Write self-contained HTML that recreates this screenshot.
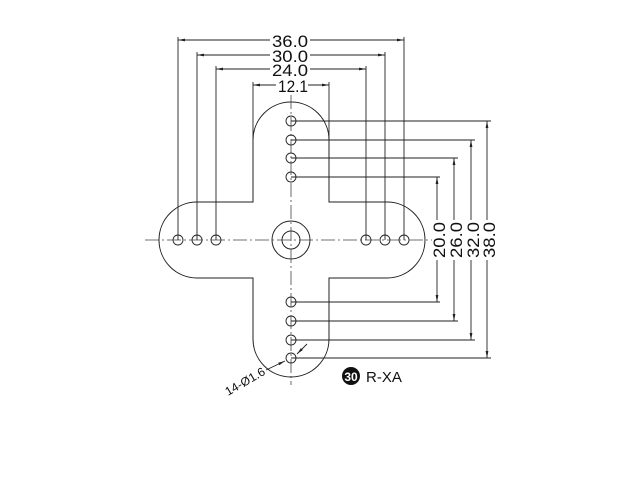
<!DOCTYPE html>
<html><head><meta charset="utf-8"><style>body{margin:0;background:#fff}svg{display:block}</style></head>
<body>
<svg width="640" height="480" viewBox="0 0 640 480" xmlns="http://www.w3.org/2000/svg" font-family="Liberation Sans, sans-serif">
<defs>
<marker id="a" viewBox="0 0 10 4" refX="10" refY="2" markerWidth="7" markerHeight="3" orient="auto-start-reverse" markerUnits="userSpaceOnUse"><path d="M0,0L10,2L0,4z" fill="#222"/></marker>
</defs>
<g fill="none" stroke="#222" stroke-width="1">
<path d="M253,140 A38,38 0 0 1 329,140 L329,202 L387,202 A38,38 0 0 1 387,278 L329,278 L329,339 A38,38 0 0 1 253,339 L253,278 L197,278 A38,38 0 0 1 197,202 L253,202 Z"/>
<circle cx="291" cy="240" r="19"/>
<circle cx="291" cy="240" r="9"/>
<g stroke-width="0.9">
<circle cx="291" cy="121" r="5"/><circle cx="291" cy="140" r="5"/><circle cx="291" cy="158" r="5"/><circle cx="291" cy="177" r="5"/>
<circle cx="291" cy="302" r="5"/><circle cx="291" cy="321" r="5"/><circle cx="291" cy="340" r="5"/><circle cx="291" cy="358" r="5"/>
<circle cx="178" cy="240" r="5"/><circle cx="197" cy="240" r="5"/><circle cx="216" cy="240" r="5"/>
<circle cx="366" cy="240" r="5"/><circle cx="385" cy="240" r="5"/><circle cx="404" cy="240" r="5"/>
</g>
</g>
<g stroke="#444" stroke-width="0.8" fill="none">
<line x1="145" y1="240" x2="432" y2="240" stroke-dasharray="14,3,2,3"/>
<line x1="291" y1="95" x2="291" y2="385" stroke-dasharray="14,3,2,3"/>
</g>
<g stroke="#222" stroke-width="0.9" fill="none">
<line x1="178" y1="37" x2="178" y2="240"/><line x1="404" y1="37" x2="404" y2="240"/>
<line x1="197" y1="52" x2="197" y2="240"/><line x1="385" y1="52" x2="385" y2="240"/>
<line x1="216" y1="66" x2="216" y2="240"/><line x1="366" y1="66" x2="366" y2="240"/>
<line x1="253" y1="82" x2="253" y2="140"/><line x1="329" y1="82" x2="329" y2="140"/>
<line x1="178" y1="40" x2="270" y2="40" marker-start="url(#a)"/><line x1="310" y1="40" x2="404" y2="40" marker-end="url(#a)"/>
<line x1="197" y1="55" x2="270" y2="55" marker-start="url(#a)"/><line x1="310" y1="55" x2="385" y2="55" marker-end="url(#a)"/>
<line x1="216" y1="69" x2="270" y2="69" marker-start="url(#a)"/><line x1="310" y1="69" x2="366" y2="69" marker-end="url(#a)"/>
<line x1="253" y1="85" x2="276" y2="85" marker-start="url(#a)"/><line x1="308" y1="85" x2="329" y2="85" marker-end="url(#a)"/>
<line x1="291" y1="121" x2="491" y2="121"/><line x1="291" y1="358" x2="491" y2="358"/>
<line x1="291" y1="140" x2="475" y2="140"/><line x1="291" y1="340" x2="475" y2="340"/>
<line x1="291" y1="158" x2="458" y2="158"/><line x1="291" y1="321" x2="458" y2="321"/>
<line x1="291" y1="177" x2="440" y2="177"/><line x1="291" y1="302" x2="440" y2="302"/>
<line x1="437" y1="220" x2="437" y2="177" marker-end="url(#a)"/><line x1="437" y1="260" x2="437" y2="302" marker-end="url(#a)"/>
<line x1="454" y1="220" x2="454" y2="158" marker-end="url(#a)"/><line x1="454" y1="260" x2="454" y2="321" marker-end="url(#a)"/>
<line x1="471" y1="220" x2="471" y2="140" marker-end="url(#a)"/><line x1="471" y1="260" x2="471" y2="340" marker-end="url(#a)"/>
<line x1="487" y1="220" x2="487" y2="121" marker-end="url(#a)"/><line x1="487" y1="260" x2="487" y2="358" marker-end="url(#a)"/>
</g>
<g stroke="#222" stroke-width="0.9">
<line x1="266" y1="370" x2="285" y2="361" marker-end="url(#a)"/>
<line x1="307" y1="344" x2="297" y2="354" marker-end="url(#a)"/>
</g>
<g fill="#111" font-size="17">
<text x="272" y="47" textLength="36" lengthAdjust="spacingAndGlyphs">36.0</text>
<text x="272" y="62" textLength="36" lengthAdjust="spacingAndGlyphs">30.0</text>
<text x="272" y="76" textLength="36" lengthAdjust="spacingAndGlyphs">24.0</text>
<text x="278" y="92" font-size="17" textLength="30" lengthAdjust="spacingAndGlyphs">12.1</text>
<text transform="translate(445,258) rotate(-90)" textLength="36" lengthAdjust="spacingAndGlyphs">20.0</text>
<text transform="translate(462,258) rotate(-90)" textLength="36" lengthAdjust="spacingAndGlyphs">26.0</text>
<text transform="translate(479,258) rotate(-90)" textLength="36" lengthAdjust="spacingAndGlyphs">32.0</text>
<text transform="translate(495,258) rotate(-90)" textLength="36" lengthAdjust="spacingAndGlyphs">38.0</text>
<text transform="translate(228,396) rotate(-30)" font-size="12" textLength="44" lengthAdjust="spacingAndGlyphs">14-Ø1.6</text>
<circle cx="351" cy="376" r="9" fill="#111"/>
<text x="351" y="381" font-size="12" fill="#fff" text-anchor="middle" font-weight="bold">30</text>
<text x="366" y="382" font-size="15">R-XA</text>
</g>
</svg>
</body></html>
